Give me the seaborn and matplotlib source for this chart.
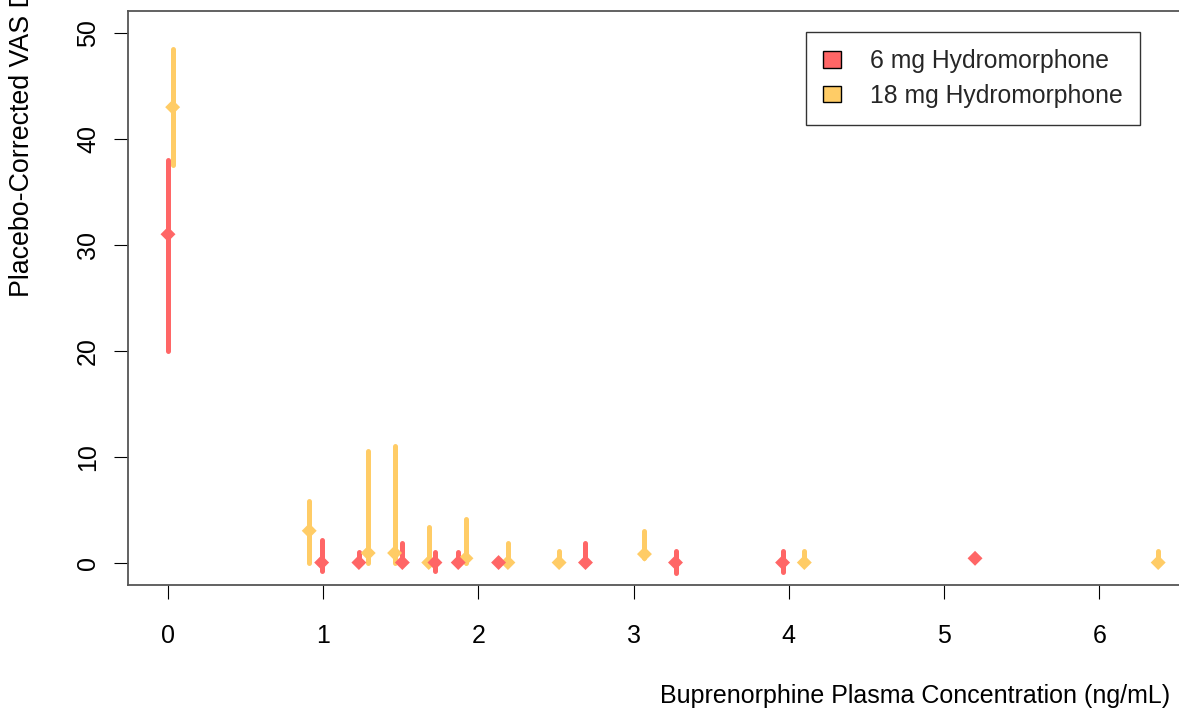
import numpy as np
import pandas as pd
import matplotlib
matplotlib.use("Agg")
import matplotlib.pyplot as plt
from matplotlib.patches import Patch
import seaborn as sns

# Dose groups and their colours
dose_labels = ["6 mg Hydromorphone", "18 mg Hydromorphone"]
dose_colors = ["#FF6666", "#FFCC66"]

# 6 mg hydromorphone: buprenorphine concentration, mean and interval
conc_6mg = [0.00, 0.99, 1.23, 1.51, 1.72, 1.87, 2.13, 2.69, 3.27, 3.96, 5.20]
mean_6mg = [31.0, 0.0, 0.0, 0.0, 0.0, 0.0, 0.0, 0.0, 0.0, 0.0, 0.4]
low_6mg = [20.0, -0.8, 0.0, -0.1, -0.8, 0.0, -0.1, 0.0, -1.0, -0.9, 0.2]
high_6mg = [38.0, 2.1, 1.0, 1.8, 1.0, 1.0, 0.2, 1.8, 1.1, 1.1, 0.6]

# 18 mg hydromorphone
conc_18mg = [0.03, 0.91, 1.29, 1.46, 1.68, 1.92, 2.19, 2.52, 3.07, 4.10, 6.38]
mean_18mg = [43.0, 3.0, 0.9, 0.9, 0.0, 0.4, 0.0, 0.0, 0.8, 0.0, 0.0]
low_18mg = [37.5, 0.0, 0.0, 0.0, 0.0, 0.0, 0.0, 0.0, 0.4, 0.0, 0.0]
high_18mg = [48.5, 5.8, 10.5, 11.0, 3.4, 4.1, 1.8, 1.1, 3.0, 1.1, 1.1]

x_ticks = [0, 1, 2, 3, 4, 5, 6]
y_ticks = [0, 10, 20, 30, 40, 50]

sns.set_style("white")
plt.rcParams["font.family"] = ["Liberation Sans", "DejaVu Sans"]

df = pd.concat([
    pd.DataFrame({"dose": dose_labels[1], "conc": conc_18mg, "mean": mean_18mg,
                  "low": low_18mg, "high": high_18mg}),
    pd.DataFrame({"dose": dose_labels[0], "conc": conc_6mg, "mean": mean_6mg,
                  "low": low_6mg, "high": high_6mg}),
], ignore_index=True)
palette = dict(zip(dose_labels, dose_colors))

W, H = 1179, 709
fig = plt.figure(figsize=(W / 100, H / 100), dpi=100)
left, right, top, bottom = 128, 1702, 11, 585
ax = fig.add_axes([left / W, 1 - bottom / H, (right - left) / W, (bottom - top) / H])

# interval bars (18 mg first so 6 mg sits on top)
for label in [dose_labels[1], dose_labels[0]]:
    sub = df[df["dose"] == label]
    lc = ax.vlines(sub["conc"], sub["low"], sub["high"], colors=palette[label],
                   linewidth=3.6, zorder=2)
    lc.set_capstyle("round")

sns.scatterplot(data=df, x="conc", y="mean", hue="dose", palette=palette,
                marker="D", s=58, linewidth=0, legend=False, ax=ax, zorder=3)

ax.set_xlim(-0.2577, 9.884)
ax.set_ylim(-2.12, 52.08)
ax.set_xticks(x_ticks)
ax.set_yticks(y_ticks)
ax.set_xticklabels([str(t) for t in x_ticks])
ax.set_yticklabels([str(t) for t in y_ticks], rotation=90, va="center")

ax.tick_params(axis="both", direction="out", length=10, width=0.8, color="black",
               labelsize=18, labelcolor="black", bottom=True, left=True)
ax.tick_params(axis="x", pad=18)
ax.tick_params(axis="y", pad=10)

for sp in ax.spines.values():
    sp.set_visible(True)
    sp.set_color("#555555")
    sp.set_linewidth(1.3)

ax.set_xlabel("Buprenorphine Plasma Concentration (ng/mL)", fontsize=18, color="black")
ax.xaxis.set_label_coords(0.5, -0.172)
ax.set_ylabel("")

fig.text(22 / W, 1 - 297 / H, "Placebo-Corrected VAS Drug Liking", rotation=90,
         ha="center", va="bottom", fontsize=19.3, color="black")

handles = [Patch(facecolor=c, edgecolor="black", linewidth=1.0) for c in dose_colors]
leg = ax.legend(handles, dose_labels, loc="upper left",
                bbox_to_anchor=(806 / W, 1 - 32 / H), bbox_transform=fig.transFigure,
                borderaxespad=0, fontsize=17.8, frameon=True, fancybox=False,
                handlelength=0.7, handleheight=0.65, handletextpad=1.2,
                borderpad=0.7, labelspacing=0.42)
leg.get_frame().set_edgecolor("black")
leg.get_frame().set_linewidth(1.0)

fig.savefig("out.png", dpi=100)
